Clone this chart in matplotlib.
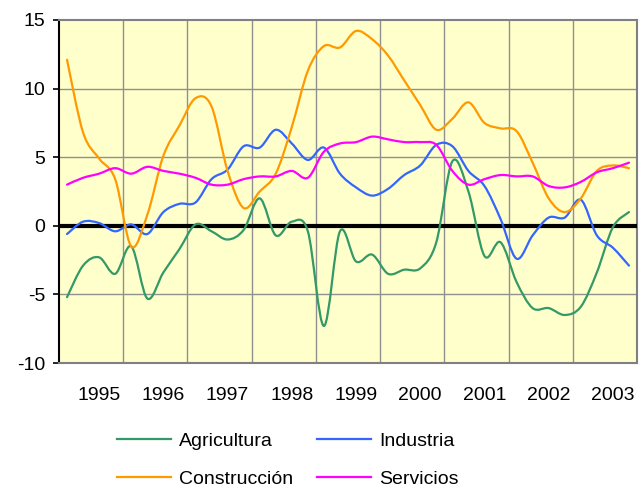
import matplotlib
matplotlib.use('Agg')
import matplotlib.pyplot as plt
from matplotlib.path import Path
from matplotlib.patches import PathPatch
from matplotlib.lines import Line2D

plt.rcParams['font.family'] = ['Liberation Sans', 'DejaVu Sans']

# Datos trimestrales (36 trimestres)
anios = ['1995', '1996', '1997', '1998', '1999', '2000', '2001', '2002', '2003']

agricultura = [-5.2, -2.9, -2.3, -3.5, -1.5, -5.3, -3.4, -1.7, 0.1,
               -0.4, -1.0, -0.3, 2.0, -0.7, 0.3, -0.4, -7.3, -0.4,
               -2.6, -2.1, -3.5, -3.2, -3.1, -1.2, 4.7, 2.5, -2.2,
               -1.2, -4.1, -6.0, -6.0, -6.5, -5.9, -3.4, -0.1, 1.0]
industria = [-0.6, 0.3, 0.2, -0.4, 0.1, -0.6, 1.0, 1.6, 1.7,
             3.4, 4.1, 5.8, 5.7, 7.0, 6.0, 4.8, 5.7, 3.8,
             2.8, 2.2, 2.7, 3.7, 4.4, 5.9, 5.8, 4.0, 2.9,
             0.5, -2.4, -0.7, 0.6, 0.6, 1.9, -0.7, -1.6, -2.9]
construccion = [12.1, 6.8, 4.9, 3.4, -1.5, 0.8, 5.1, 7.3, 9.3,
                8.7, 4.0, 1.3, 2.5, 3.8, 7.2, 11.3, 13.1, 13.0,
                14.2, 13.6, 12.4, 10.6, 8.8, 7.0, 7.8, 9.0, 7.5,
                7.1, 6.9, 4.6, 2.0, 1.0, 2.0, 4.0, 4.4, 4.2]
servicios = [3.0, 3.5, 3.8, 4.2, 3.8, 4.3, 4.0, 3.8, 3.5,
             3.0, 3.0, 3.4, 3.6, 3.6, 4.0, 3.5, 5.4, 6.0,
             6.1, 6.5, 6.3, 6.1, 6.1, 5.9, 4.0, 3.0, 3.4,
             3.7, 3.6, 3.6, 2.9, 2.8, 3.2, 3.9, 4.2, 4.6]

series = [
    ('Agricultura', agricultura, '#339966'),
    ('Industria', industria, '#3366FF'),
    ('Construcción', construccion, '#FF9900'),
    ('Servicios', servicios, '#FF00FF'),
]


def curva_suave(xs, ys):
    """Trayectoria Bezier suavizada (estilo linea suavizada de Excel)."""
    pts = list(zip(xs, ys))
    n = len(pts)
    verts = [pts[0]]
    codes = [Path.MOVETO]
    for i in range(n - 1):
        p0 = pts[i - 1] if i > 0 else pts[i]
        p1 = pts[i]
        p2 = pts[i + 1]
        p3 = pts[i + 2] if i + 2 < n else pts[i + 1]
        c1 = (p1[0] + (p2[0] - p0[0]) / 6, p1[1] + (p2[1] - p0[1]) / 6)
        c2 = (p2[0] - (p3[0] - p1[0]) / 6, p2[1] - (p3[1] - p1[1]) / 6)
        verts += [c1, c2, p2]
        codes += [Path.CURVE4] * 3
    return Path(verts, codes)


fig = plt.figure(figsize=(6.41, 4.87), dpi=100)
ax = fig.add_axes([59 / 641, 1 - 363 / 487, 578 / 641, 343 / 487])
ax.set_facecolor('#FFFFCC')

x = list(range(len(agricultura)))
ax.set_xlim(-0.5, len(x) - 0.5)
ax.set_ylim(-10, 15)

# rejilla
for gx in range(4, len(x), 4):
    ax.axvline(gx - 0.5, color='#909090', lw=1.0, zorder=1)
for gy in (-5, 5, 10):
    ax.axhline(gy, color='#909090', lw=1.0, zorder=1)
ax.axhline(0, color='black', lw=3.0, zorder=3)

handles = {}
for nombre, vals, color in series:
    patch = PathPatch(curva_suave(x, vals), facecolor='none', edgecolor=color,
                      lw=1.6, transform=ax.transData, zorder=4,
                      capstyle='round', joinstyle='round')
    ax.add_patch(patch)
    handles[nombre] = Line2D([], [], color=color, lw=1.6, label=nombre)

ax.set_yticks([-10, -5, 0, 5, 10, 15])
ax.set_yticklabels(['-10', '-5', '0', '5', '10', '15'])
ax.set_xticks(range(2, len(x), 4))
ax.set_xticklabels(anios)
ax.tick_params(axis='y', direction='out', length=4, width=1.2, pad=6,
               labelsize=14, colors='black')
ax.tick_params(axis='x', length=0, pad=17, labelsize=14)

for lado in ('top', 'right', 'bottom'):
    ax.spines[lado].set_color('#808080')
    ax.spines[lado].set_linewidth(1.5)
ax.spines['left'].set_color('black')
ax.spines['left'].set_linewidth(1.5)

# leyenda: fila 1 Agricultura / Industria, fila 2 Construcción / Servicios
orden = ['Agricultura', 'Construcción', 'Industria', 'Servicios']
fig.legend(handles=[handles[k] for k in orden], loc='upper left', ncol=2,
           frameon=False, bbox_to_anchor=(117 / 641, 1 - 432 / 487),
           fontsize=14, handlelength=2.8, handletextpad=0.4,
           columnspacing=1.2, labelspacing=1.05, borderpad=0,
           borderaxespad=0)

fig.savefig('out.png', dpi=100, facecolor='white')
